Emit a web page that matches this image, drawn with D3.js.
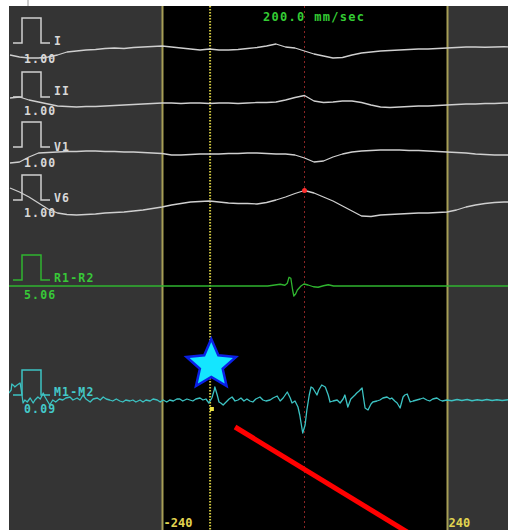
<!DOCTYPE html>
<html>
<head>
<meta charset="utf-8">
<script src="https://cdn.jsdelivr.net/npm/d3@7"></script>
<style>
  html, body { margin: 0; padding: 0; background: #ffffff; }
  svg { display: block; }
  text { font-family: "DejaVu Sans Mono", "Liberation Mono", monospace; font-weight: bold; }
</style>
</head>
<body>
<svg id="chart" width="508" height="530"></svg>
<script>
// ---- recording data (time in ms relative to the annotated beat, amplitude in mV) ----
const timeTicks = [-240, 240];
const sweepSpeed = "200.0 mm/sec";
const channelNames = ["I", "II", "V1", "V6", "R1-R2", "M1-M2"];
const calibrationLabels = ["1.00", "1.00", "1.00", "1.00", "5.06", "0.09"];
const calibrationStep = [1, 1, 1, 1, 1, 1];

// surface leads: evenly sampled every 16 ms from -496 ms
const surfaceStartMs = -496;
const surfaceStepMs = 16;
const leadI = [-0.48,-0.56,-0.60,-0.60,-0.56,-0.48,-0.36,-0.32,-0.28,-0.26,-0.22,-0.20,-0.22,-0.18,-0.16,-0.14,-0.12,-0.16,-0.20,-0.24,-0.28,-0.24,-0.28,-0.28,-0.26,-0.22,-0.18,-0.12,-0.04,-0.16,-0.20,-0.32,-0.44,-0.52,-0.60,-0.58,-0.48,-0.40,-0.36,-0.32,-0.30,-0.28,-0.26,-0.24,-0.24,-0.22,-0.20,-0.18,-0.16,-0.16,-0.17,-0.16,-0.15,-0.16];
const leadII = [-0.04,0.00,-0.12,-0.20,-0.28,-0.36,-0.38,-0.40,-0.38,-0.38,-0.36,-0.34,-0.32,-0.30,-0.28,-0.26,-0.24,-0.24,-0.26,-0.24,-0.24,-0.26,-0.24,-0.24,-0.26,-0.24,-0.22,-0.22,-0.20,-0.12,-0.02,0.06,-0.16,-0.22,-0.20,-0.16,-0.16,-0.22,-0.32,-0.40,-0.42,-0.40,-0.38,-0.36,-0.36,-0.34,-0.32,-0.30,-0.28,-0.28,-0.26,-0.26,-0.24,-0.24];
const leadV1 = [-0.64,-0.60,-0.40,-0.24,-0.22,-0.20,-0.18,-0.18,-0.16,-0.16,-0.18,-0.18,-0.20,-0.20,-0.22,-0.24,-0.26,-0.32,-0.32,-0.30,-0.28,-0.28,-0.28,-0.26,-0.26,-0.24,-0.24,-0.26,-0.28,-0.28,-0.32,-0.44,-0.60,-0.56,-0.40,-0.28,-0.20,-0.16,-0.14,-0.12,-0.12,-0.12,-0.14,-0.14,-0.16,-0.18,-0.20,-0.22,-0.24,-0.28,-0.30,-0.32,-0.32,-0.32];
const leadV6 = [0.48,0.32,0.12,-0.12,-0.36,-0.52,-0.58,-0.60,-0.58,-0.56,-0.52,-0.50,-0.48,-0.44,-0.40,-0.34,-0.28,-0.20,-0.14,-0.08,-0.06,-0.04,-0.08,-0.12,-0.14,-0.14,-0.16,-0.10,0.00,0.12,0.26,0.38,0.28,0.12,-0.04,-0.24,-0.44,-0.64,-0.66,-0.60,-0.58,-0.56,-0.54,-0.52,-0.52,-0.50,-0.48,-0.40,-0.28,-0.20,-0.14,-0.10,-0.08,-0.08];

// intracardiac bipoles: [time ms, mV]
const r1r2 = [[-498,0],[-62,0],[-50,0.04],[-41,0.07],[-33,0.03],[-29,0.11],[-26,0.35],[-23,0.31],[-20,-0.16],[-18,-0.40],[-15,-0.32],[-12,-0.16],[-6,0],[-1,0.08],[6,0.04],[15,-0.03],[23,-0.05],[32,0.01],[40,0.05],[49,0],[343,0]];
const m1m2 = [[-498,0.28],[-494,0.40],[-493,0.64],[-489,0.56],[-488,0.52],[-484,0.60],[-479,0.68],[-477,0.40],[-474,-0.12],[-471,0],[-467,-0.08],[-462,0.08],[-457,-0.12],[-454,0],[-449,0.12],[-445,0.04],[-440,0.28],[-437,0.12],[-434,0],[-429,-0.20],[-424,0],[-419,-0.08],[-413,0.04],[-407,0],[-402,0.08],[-395,0.12],[-390,0],[-383,0.08],[-378,0],[-373,0.20],[-368,0.04],[-361,-0.08],[-356,0.04],[-349,0.08],[-344,0],[-339,0.12],[-334,0.04],[-328,0],[-323,-0.04],[-317,0.04],[-311,-0.04],[-306,-0.08],[-301,0],[-294,-0.04],[-289,0],[-284,-0.08],[-277,0],[-272,-0.08],[-267,0],[-260,-0.04],[-255,0.04],[-248,0],[-243,-0.08],[-238,0],[-232,-0.08],[-227,0],[-221,-0.04],[-215,0.04],[-210,0.04],[-205,-0.04],[-198,0.04],[-193,0],[-188,-0.04],[-183,0.04],[-176,0.08],[-171,0],[-166,0.04],[-161,-0.12],[-156,0.08],[-152,0.40],[-151,0.52],[-147,0.20],[-144,-0.08],[-141,-0.12],[-137,-0.20],[-132,-0.08],[-127,0.04],[-122,0.12],[-117,-0.04],[-112,0],[-107,0.08],[-102,-0.04],[-97,0.04],[-92,-0.04],[-87,-0.08],[-82,0.04],[-75,0.12],[-70,0],[-65,-0.04],[-58,0],[-53,0.08],[-46,0.16],[-41,-0.04],[-36,0.08],[-29,0.32],[-24,0.08],[-21,-0.12],[-16,-0.04],[-11,-0.28],[-8,-0.60],[-3,-1.32],[1,-1.00],[4,-0.40],[8,0.20],[11,0.52],[14,0.48],[18,0.32],[21,0.20],[24,0.40],[29,0.60],[35,0.52],[40,0.20],[43,-0.08],[48,-0.04],[55,0],[60,-0.12],[65,0.04],[68,0.20],[73,-0.28],[78,0.04],[85,0.20],[88,0.28],[92,0.36],[97,0.48],[102,-0.32],[107,-0.40],[112,-0.16],[115,-0.08],[122,-0.04],[127,0],[132,0.08],[139,0.12],[144,0.04],[147,0.08],[152,-0.04],[156,-0.12],[161,-0.32],[166,0.12],[169,0.20],[173,0.24],[178,-0.08],[183,-0.04],[189,0],[195,0.04],[200,0.08],[206,0],[211,-0.04],[216,0.04],[223,0.08],[228,0],[232,-0.04],[240,0],[248,-0.03],[257,0.02],[265,-0.02],[274,0.02],[282,-0.03],[291,0.01],[299,-0.02],[307,0.02],[316,-0.02],[324,0.01],[333,-0.02],[343,0.01]];

// cursors and annotations
const cursorMs = -159;       // review cursor (dotted yellow)
const referenceMs = 0;       // reference beat (dotted red)
const localActivation = [-156, -0.36];           // marker on M1-M2
const starAnnotation = [-157, 1.40];             // star above M1-M2
const arrowAnnotation = [[-117, -1.08], [195, -5.6]];

// ---- layout ----
const frame = { left: 9, top: 6, right: 508, bottom: 530 };
const gain = 25; // px per mV

// per-channel layout: trace zero line, calibration pulse bottom, label baselines, colours
const layout = [
  { zero: 43,  pulse: 43,  nameY: 45,  calY: 63,  trace: "#cfcfcf", text: "#d8d8d8" },
  { zero: 97,  pulse: 97,  nameY: 95,  calY: 115, trace: "#cfcfcf", text: "#d8d8d8" },
  { zero: 147, pulse: 147, nameY: 151, calY: 167, trace: "#cfcfcf", text: "#d8d8d8" },
  { zero: 200, pulse: 200, nameY: 202, calY: 217, trace: "#cfcfcf", text: "#d8d8d8" },
  { zero: 286, pulse: 280, nameY: 282, calY: 299, trace: "#2fb42f", text: "#38c838" },
  { zero: 400, pulse: 395, nameY: 396, calY: 413, trace: "#3cc2c2", text: "#44caca" }
];

const svg = d3.select("#chart");

const x = d3.scaleLinear().domain([-240, 240]).range([162, 447]);
const yFor = i => d3.scaleLinear().domain([0, 1]).range([layout[i].zero, layout[i].zero - gain]);

// clip everything to the recording frame
svg.append("defs").append("clipPath").attr("id", "frame")
  .append("rect").attr("x", frame.left).attr("y", frame.top)
  .attr("width", frame.right - frame.left).attr("height", frame.bottom - frame.top);

// small divider tick in the white margin
svg.append("line").attr("x1", 28).attr("x2", 28).attr("y1", 0).attr("y2", frame.top)
  .attr("stroke", "#9a9a9a").attr("stroke-width", 1);

const g = svg.append("g").attr("clip-path", "url(#frame)");

// backgrounds: grey outside the analysis window, black inside
g.append("rect").attr("x", frame.left).attr("y", frame.top)
  .attr("width", frame.right - frame.left).attr("height", frame.bottom - frame.top)
  .attr("fill", "#343434");
g.append("rect").attr("x", x(timeTicks[0])).attr("y", frame.top)
  .attr("width", x(timeTicks[1]) - x(timeTicks[0])).attr("height", frame.bottom - frame.top)
  .attr("fill", "#000000");

// window boundary axis: tick lines span the full height, labels at the bottom
const axis = d3.axisBottom(x).tickValues(timeTicks).tickSize(-(frame.bottom - frame.top)).tickSizeOuter(0)
  .tickFormat(d => String(d));
const axisG = g.append("g").attr("transform", `translate(0,${frame.bottom})`).call(axis);
axisG.select(".domain").remove();
axisG.selectAll(".tick line").attr("stroke", "#a69e56").attr("stroke-width", 2);
axisG.selectAll(".tick text")
  .attr("fill", "#e2d450").attr("font-size", 12).attr("font-family", "DejaVu Sans Mono, monospace")
  .attr("font-weight", "bold").attr("text-anchor", "start")
  .attr("x", 1).attr("y", -3).attr("dy", 0);

// reference beat (dotted red) and review cursor (dotted yellow)
g.append("line").attr("x1", x(referenceMs)).attr("x2", x(referenceMs))
  .attr("y1", frame.top).attr("y2", frame.bottom)
  .attr("stroke", "#8a2424").attr("stroke-width", 1).attr("stroke-dasharray", "2,3");
g.append("line").attr("x1", x(cursorMs)).attr("x2", x(cursorMs))
  .attr("y1", frame.top).attr("y2", frame.bottom)
  .attr("stroke", "#cfc640").attr("stroke-width", 2).attr("stroke-dasharray", "1.5,1.5");

// sweep speed
g.append("text").attr("x", 263).attr("y", 21)
  .attr("fill", "#34cc34").attr("font-size", 12).attr("letter-spacing", 1.3)
  .text(sweepSpeed);

// traces
const surface = [leadI, leadII, leadV1, leadV6].map(arr => arr.map((v, k) => [surfaceStartMs + k * surfaceStepMs, v]));
const traces = [...surface, r1r2, m1m2];

traces.forEach((data, i) => {
  const y = yFor(i);
  const L = layout[i];
  const line = d3.line().x(d => x(d[0])).y(d => y(d[1]));

  g.append("path").datum(data).attr("d", line)
    .attr("fill", "none").attr("stroke", L.trace).attr("stroke-width", 1.3)
    .attr("stroke-linejoin", "round");

  // calibration pulse
  const pb = L.pulse, pt = L.pulse - calibrationStep[i] * gain;
  g.append("path")
    .attr("d", `M13,${pb}H22V${pt}H41V${pb}H50`)
    .attr("fill", "none").attr("stroke", L.trace).attr("stroke-width", 1.5);

  g.append("text").attr("x", 54).attr("y", L.nameY)
    .attr("fill", L.text).attr("font-size", 11.5).attr("letter-spacing", 1.2)
    .text(channelNames[i]);
  g.append("text").attr("x", 24).attr("y", L.calY)
    .attr("fill", L.text).attr("font-size", 11.5).attr("letter-spacing", 1.2)
    .text(calibrationLabels[i]);
});

// peak marker on V6 at the reference beat
const v6Idx = Math.round((referenceMs - surfaceStartMs) / surfaceStepMs);
g.append("circle").attr("cx", x(referenceMs)).attr("cy", yFor(3)(leadV6[v6Idx]))
  .attr("r", 2.5).attr("fill", "#ff3030");

// local activation marker on M1-M2
const yM = yFor(5);
g.append("rect").attr("x", x(localActivation[0]) - 2).attr("y", yM(localActivation[1]) - 2)
  .attr("width", 4).attr("height", 4).attr("fill", "#ece444");

// annotation star: five points, outer radius 26, inner radius 12
const starPts = d3.range(10).map(k => [k * Math.PI / 5, k % 2 ? 12 : 26]);
g.append("path")
  .attr("transform", `translate(${x(starAnnotation[0])},${yM(starAnnotation[1])})`)
  .attr("d", d3.lineRadial().angle(d => d[0]).radius(d => d[1]).curve(d3.curveLinearClosed)(starPts))
  .attr("fill", "#14e6ff").attr("stroke", "#0a20e6").attr("stroke-width", 2.5)
  .attr("stroke-linejoin", "miter");

// annotation pointer
g.append("line")
  .attr("x1", x(arrowAnnotation[0][0])).attr("y1", yM(arrowAnnotation[0][1]))
  .attr("x2", x(arrowAnnotation[1][0])).attr("y2", yM(arrowAnnotation[1][1]))
  .attr("stroke", "#ff0000").attr("stroke-width", 5);
</script>
</body>
</html>
